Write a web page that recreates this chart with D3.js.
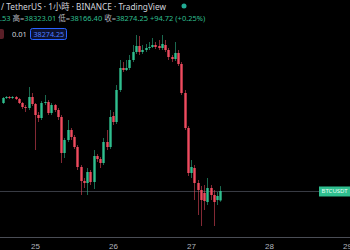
<!DOCTYPE html>
<html>
<head>
<meta charset="utf-8">
<script src="https://cdn.jsdelivr.net/npm/d3@7.9.0/dist/d3.min.js"></script>
<style>
  html, body { margin: 0; padding: 0; background: #000; }
  svg { display: block; font-family: "Noto Sans", "Noto Sans CJK TC", sans-serif; }
</style>
</head>
<body>
<svg id="chart" width="350" height="250"></svg>
<script>
// hourly BTCUSDT candles, first one at 24th 14:00 (day 27 00:00 is index 58)
const firstHour = new Date(2022, 0, 24, 14);
const opens  = [39154,39204,39214,39204,39214,39194,39154,39114,39104,39214,39144,39034,39004,39154,39164,39054,39134,39084,39014,38654,
                38784,38884,38814,38714,38514,38374,38354,38464,38364,38624,38594,38554,38764,38714,39024,38964,39284,39504,39484,39504,
                39584,39664,39724,39664,39684,39704,39714,39734,39724,39704,39734,39684,39614,39594,39654,39544,39254,38904,38454,38504,
                38354,38284,38254,38164,38304,38234,38184,38179.53];
const highs  = [39214,39224,39224,39224,39224,39204,39164,39134,39314,39254,39154,39064,39174,39234,39184,39154,39144,39104,39034,38804,
                38984,38904,38834,38734,38534,38404,38504,38484,38684,38644,38614,38804,38884,39084,39064,39334,39584,39564,39584,39634,
                39734,39834,39824,39734,39744,39764,39804,39764,39784,39834,39784,39704,39634,39764,39684,39564,39284,38924,38584,38534,
                38384,38324,38334,38404,38334,38284,38264,38323.01];
const lows   = [39144,39194,39194,39194,39184,39144,39094,39064,39084,39124,38684,38964,38984,39134,39034,39034,39064,38984,38554,38604,
                38764,38784,38694,38484,38234,38304,38234,38334,38294,38564,38504,38534,38684,38694,38934,38944,39264,39464,39474,39484,
                39564,39644,39634,39644,39664,39684,39704,39694,39684,39684,39664,39584,39564,39574,39524,39234,38884,38424,38404,38184,
                38034,37924,38084,38134,38184,37924,38134,38166.40];
const closes = [39204,39214,39204,39214,39194,39154,39114,39104,39214,39144,39034,39004,39154,39164,39054,39134,39084,39014,38654,38784,
                38884,38814,38714,38514,38374,38354,38464,38364,38624,38594,38554,38764,38714,39014,38964,39284,39504,39484,39504,39584,
                39664,39724,39664,39684,39704,39714,39734,39714,39704,39744,39684,39614,39594,39654,39544,39254,38904,38454,38514,38354,
                38284,38184,38174,38304,38234,38164,38224,38274.25];
const dayTicks = [25, 26, 27, 28, 29];
const lastPrice = 38274.25;

const candles = opens.map((o, i) => ({
  t: d3.timeHour.offset(firstHour, i), o, h: highs[i], l: lows[i], c: closes[i]
}));

const up = "#2fbf8f", down = "#ef4b5f";
const svg = d3.select("#chart");

const x = d3.scaleTime()
  .domain([new Date(2022, 0, 25), new Date(2022, 0, 29)])
  .range([35, 347]);
const y = d3.scaleLinear().domain([37684, 40184]).range([250, 0]);
const bw = 2.4;

// last price line
svg.append("line")
  .attr("x1", 0).attr("x2", 320)
  .attr("y1", y(lastPrice) + 0.5).attr("y2", y(lastPrice) + 0.5)
  .attr("stroke", "#3a3d45").attr("stroke-width", 1);

const g = svg.append("g");
g.selectAll("line.wick").data(candles).join("line")
  .attr("class", "wick")
  .attr("x1", d => Math.round(x(d.t)) + 0.5).attr("x2", d => Math.round(x(d.t)) + 0.5)
  .attr("y1", d => y(d.h)).attr("y2", d => y(d.l))
  .attr("stroke", d => d.c >= d.o ? up : down)
  .attr("stroke-opacity", 0.55)
  .attr("stroke-width", 1);

g.selectAll("rect.body").data(candles).join("rect")
  .attr("class", "body")
  .attr("x", d => Math.round(x(d.t)) + 0.5 - bw / 2)
  .attr("width", bw)
  .attr("y", d => y(Math.max(d.o, d.c)))
  .attr("height", d => Math.max(1, Math.abs(y(d.o) - y(d.c))))
  .attr("fill", d => d.c >= d.o ? up : down);

// x axis
const xAxis = d3.axisBottom(x)
  .tickValues(dayTicks.map(d => new Date(2022, 0, d)))
  .tickFormat(d3.timeFormat("%-d"))
  .tickSize(0).tickPadding(6);
const ax = svg.append("g").attr("transform", "translate(0,237)").call(xAxis);
ax.select(".domain").remove();
svg.append("line").attr("x1", 0).attr("x2", 350).attr("y1", 237.5).attr("y2", 237.5)
  .attr("stroke", "#4a4d55");
ax.selectAll("text").attr("fill", "#b2b5be").attr("font-size", 8);

// symbol label on price line
svg.append("rect").attr("x", 319).attr("y", y(lastPrice) - 4.5).attr("width", 31).attr("height", 10)
  .attr("fill", up);
svg.append("text").attr("x", 321.5).attr("y", y(lastPrice) + 2.5)
  .attr("font-size", 6).attr("fill", "#e8fff6").text("BTCUSDT");

// header
svg.append("text").attr("x", 1).attr("y", 10).attr("font-size", 8.6).attr("fill", "#d1d4dc")
  .attr("textLength", 165).attr("lengthAdjust", "spacingAndGlyphs")
  .text("/ TetherUS · 1小時 · BINANCE · TradingView");
svg.append("circle").attr("cx", 184).attr("cy", 6).attr("r", 2.5).attr("fill", "#22ab94");

const info = svg.append("text").attr("x", 0).attr("y", 21).attr("font-size", 7.5);
[[".53 ", up], ["高=", "#b2b5be"], ["38323.01 ", up], ["低=", "#b2b5be"], ["38166.40 ", up],
 ["收=", "#b2b5be"], ["38274.25 ", up], ["+94.72 (+0.25%)", up]]
  .forEach(([s, c]) => info.append("tspan").attr("fill", c).text(s));

svg.append("rect").attr("x", -4).attr("y", 29).attr("width", 8).attr("height", 10).attr("rx", 2)
  .attr("fill", "#5a1f27");
svg.append("text").attr("x", 12).attr("y", 37).attr("font-size", 7.5).attr("fill", "#d1d4dc").text("0.01");
svg.append("rect").attr("x", 30.5).attr("y", 28.5).attr("width", 36).attr("height", 11).attr("rx", 2)
  .attr("fill", "#0d1230").attr("stroke", "#2962ff");
svg.append("text").attr("x", 33.5).attr("y", 37).attr("font-size", 7.2).attr("fill", "#4d7cff").text("38274.25");
</script>
</body>
</html>
